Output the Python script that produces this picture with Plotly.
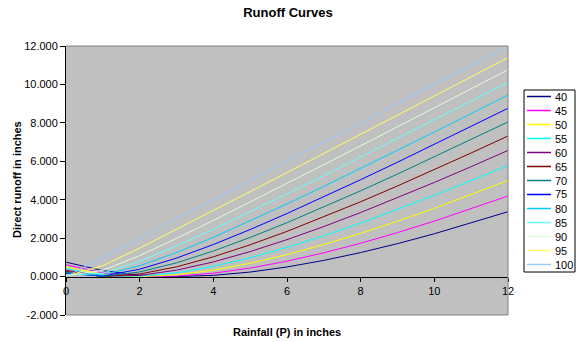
import plotly.graph_objects as go

# ---- data ----
rainfall = [0, 1, 2, 3, 4, 5, 6, 7, 8, 9, 10, 11, 12]
curve_numbers = [40, 45, 50, 55, 60, 65, 70, 75, 80, 85, 90, 95, 100]

q40 = [0.750, 0.308, 0.071, 0.000, 0.063, 0.235, 0.500, 0.842, 1.250, 1.714, 2.227, 2.783, 3.375]
q45 = [0.611, 0.194, 0.017, 0.024, 0.176, 0.442, 0.801, 1.237, 1.736, 2.289, 2.886, 3.523, 4.193]
q50 = [0.500, 0.111, 0.000, 0.091, 0.333, 0.692, 1.143, 1.667, 2.250, 2.882, 3.556, 4.263, 5.000]
q55 = [0.409, 0.054, 0.015, 0.195, 0.530, 0.980, 1.518, 2.124, 2.784, 3.488, 4.228, 4.997, 5.791]
q60 = [0.333, 0.018, 0.061, 0.333, 0.762, 1.301, 1.922, 2.604, 3.333, 4.101, 4.899, 5.721, 6.564]
q65 = [0.269, 0.001, 0.135, 0.506, 1.029, 1.654, 2.351, 3.103, 3.894, 4.717, 5.565, 6.433, 7.316]
q70 = [0.214, 0.005, 0.241, 0.714, 1.330, 2.036, 2.805, 3.618, 4.464, 5.335, 6.225, 7.130, 8.048]
q75 = [0.167, 0.030, 0.381, 0.961, 1.667, 2.449, 3.282, 4.149, 5.042, 5.952, 6.877, 7.813, 8.758]
q80 = [0.125, 0.083, 0.563, 1.250, 2.042, 2.893, 3.781, 4.694, 5.625, 6.568, 7.521, 8.481, 9.446]
q85 = [0.088, 0.174, 0.795, 1.588, 2.458, 3.368, 4.303, 5.253, 6.213, 7.182, 8.155, 9.133, 10.115]
q90 = [0.056, 0.320, 1.094, 1.984, 2.919, 3.876, 4.846, 5.823, 6.806, 7.792, 8.780, 9.771, 10.762]
q95 = [0.026, 0.563, 1.483, 2.449, 3.431, 4.420, 5.412, 6.406, 7.401, 8.398, 9.395, 10.393, 11.391]
q100 = [0.000, 1.000, 2.000, 3.000, 4.000, 5.000, 6.000, 7.000, 8.000, 9.000, 10.000, 11.000, 12.000]

series = [q40, q45, q50, q55, q60, q65, q70, q75, q80, q85, q90, q95, q100]

y_tick_vals = [-2, 0, 2, 4, 6, 8, 10, 12]
y_tick_text = ["-2.000", "0.000", "2.000", "4.000", "6.000", "8.000", "10.000", "12.000"]
x_tick_vals = [0, 2, 4, 6, 8, 10, 12]

# ---- styles ----
colors = ["#000080", "#FF00FF", "#FFFF00", "#00FFFF", "#800080", "#800000",
          "#008080", "#0000FF", "#00CCFF", "#66FFFF", "#DDFFDD", "#FFFF66", "#99CCFF"]

W, H = 579, 342
L, R, T, B = 66, 508, 46, 315
FONT = "Liberation Sans, Arial, sans-serif"


def px_x(px):
    return (px - L) / (R - L)


def px_y(py):
    return (B - py) / (B - T)


fig = go.Figure()
for cn, ys, col in zip(curve_numbers, series, colors):
    fig.add_trace(go.Scatter(x=rainfall, y=ys, mode="lines", name=str(cn),
                             line=dict(color=col, width=1), showlegend=False))

shapes = []
annotations = []
# plot border (top, right, bottom) in gray
for x0, y0, x1, y1 in [(0, 1, 1, 1), (1, 0, 1, 1), (0, 0, 1, 0)]:
    shapes.append(dict(type="line", xref="paper", yref="paper", x0=x0, y0=y0, x1=x1, y1=y1,
                       line=dict(color="#808080", width=1)))

# manual legend
shapes.append(dict(type="rect", xref="paper", yref="paper",
                   x0=px_x(524), x1=px_x(575), y0=px_y(90), y1=px_y(272),
                   line=dict(color="black", width=1), fillcolor="white", layer="above"))
for i, (cn, col) in enumerate(zip(curve_numbers, colors)):
    cy = 96.5 + 14 * i
    shapes.append(dict(type="line", xref="paper", yref="paper",
                       x0=px_x(527), x1=px_x(551), y0=px_y(cy), y1=px_y(cy),
                       line=dict(color=col, width=1.5)))
    annotations.append(dict(text=str(cn), xref="paper", yref="paper", x=px_x(552.5), y=px_y(cy),
                            xanchor="left", yanchor="middle", showarrow=False,
                            font=dict(family=FONT, size=11, color="black")))

# axis titles
annotations.append(dict(text="<b>Direct runoff in inches</b>", xref="paper", yref="paper",
                        x=px_x(17), y=px_y(180), textangle=-90, showarrow=False,
                        xanchor="center", yanchor="middle",
                        font=dict(family=FONT, size=11, color="black")))
annotations.append(dict(text="<b>Rainfall (P) in inches</b>", xref="paper", yref="paper",
                        x=px_x(287), y=px_y(332), showarrow=False,
                        xanchor="center", yanchor="middle",
                        font=dict(family=FONT, size=11, color="black")))

fig.update_layout(
    width=W, height=H,
    margin=dict(l=L, r=W - R, t=T, b=H - B, pad=0),
    paper_bgcolor="white",
    plot_bgcolor="#C0C0C0",
    showlegend=False,
    title=dict(text="<b>Runoff Curves</b>", x=288 / W, y=1 - 12 / H,
               xanchor="center", yanchor="middle",
               font=dict(family=FONT, size=13, color="black")),
    xaxis=dict(range=[0, 12], tickvals=x_tick_vals, ticks="outside", ticklen=4,
               tickcolor="black", showline=True, linecolor="black", linewidth=1,
               showgrid=False, zeroline=False, anchor="free", position=2 / 14,
               tickfont=dict(family=FONT, size=11, color="black")),
    yaxis=dict(range=[-2, 12], tickvals=y_tick_vals, ticktext=y_tick_text,
               ticks="outside", ticklen=5, tickcolor="black",
               showline=True, linecolor="black", linewidth=1,
               showgrid=False, zeroline=False,
               tickfont=dict(family=FONT, size=11, color="black")),
    shapes=shapes,
    annotations=annotations,
)

fig.write_html("out.html")
